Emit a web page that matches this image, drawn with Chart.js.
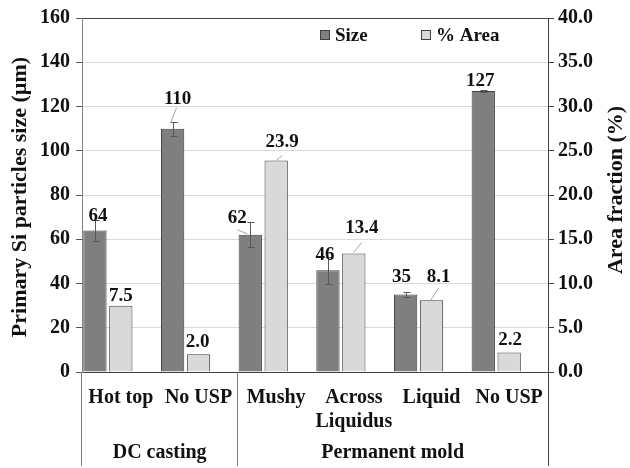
<!DOCTYPE html>
<html>
<head>
<meta charset="utf-8">
<script src="https://cdn.jsdelivr.net/npm/chart.js@4.4.1/dist/chart.umd.min.js"></script>
<style>
    html, body { margin: 0; padding: 0; background: #fff; }
    canvas { display: block; }
</style>
</head>
<body>
<canvas id="chart" width="630" height="468"></canvas>
<script>
// ==================== DADOS ====================
const categories = [['Hot top'], ['No USP'], ['Mushy'], ['Across', 'Liquidus'], ['Liquid'], ['No USP']];
const groups = ['DC casting', 'Permanent mold'];
const groupSizes = [2, 4];
const sizeValues = [64, 110, 62, 46, 35, 127];
const sizeErrors = [4.8, 3.2, 5.6, 6.0, 1.3, 0.5];
const areaValues = [7.5, 2.0, 23.9, 13.4, 8.1, 2.2];
const sizeAxis = { min: 0, max: 160, step: 20 };
const areaAxis = { min: 0, max: 40, step: 5 };

// ==================== ESTILO ====================
const SERIF = '"Liberation Serif", "Times New Roman", serif';
const DARK = '#7f7f7f';
const LIGHT = '#d9d9d9';
const EDGE = '#404040';

// label offsets from bar top-centre, optional leader [sx, sy, ex, ey]
const sizeLabelStyle = [
    { dx: 3, dy: -14 },
    { dx: 5, dy: -30, lead: [-1, 9, -2, -6] },
    { dx: -13, dy: -17, lead: [0, 12, -3, -1] },
    { dx: -3, dy: -15 },
    { dx: -4, dy: -17 },
    { dx: -3, dy: -10 }
];
const areaLabelStyle = [
    { dx: 0, dy: -10 },
    { dx: -1, dy: -12 },
    { dx: 6, dy: -18, lead: [0, 13, 0, 0] },
    { dx: 8, dy: -25, lead: [0, 14, 0, -1] },
    { dx: 7, dy: -23, lead: [0, 11, -1, 0] },
    { dx: 1, dy: -12 }
];

function line(ctx, x1, y1, x2, y2) {
    ctx.beginPath();
    ctx.moveTo(x1, y1);
    ctx.lineTo(x2, y2);
    ctx.stroke();
}

// ==================== PLUGIN: ERROS, RÓTULOS, LEGENDA ====================
const extras = {
    id: 'extras',
    afterDatasetsDraw(chart) {
        const ctx = chart.ctx;
        const ySize = chart.scales.y;
        const sizeBars = chart.getDatasetMeta(0).data;
        const areaBars = chart.getDatasetMeta(1).data;
        ctx.save();

        // barras de erro
        ctx.strokeStyle = '#595959';
        ctx.lineWidth = 1;
        sizeBars.forEach((bar, i) => {
            const x = Math.round(bar.x) + 0.5;
            const hi = Math.round(ySize.getPixelForValue(sizeValues[i] + sizeErrors[i])) + 0.5;
            const lo = Math.round(ySize.getPixelForValue(sizeValues[i] - sizeErrors[i])) + 0.5;
            line(ctx, x, hi, x, lo);
            line(ctx, x - 3, hi, x + 4, hi);
            line(ctx, x - 3, lo, x + 4, lo);
        });

        // rótulos de dados
        const drawLabels = (bars, values, styles, fmt) => {
            bars.forEach((bar, i) => {
                const st = styles[i];
                const lx = bar.x + st.dx;
                const ly = bar.y + st.dy;
                if (st.lead) {
                    ctx.strokeStyle = '#a6a6a6';
                    line(ctx, lx + st.lead[0], ly + st.lead[1], bar.x + st.lead[2], bar.y + st.lead[3]);
                }
                ctx.fillStyle = '#111';
                ctx.font = `bold 19px ${SERIF}`;
                ctx.textAlign = 'center';
                ctx.textBaseline = 'middle';
                ctx.fillText(fmt(values[i]), lx, ly);
            });
        };
        drawLabels(sizeBars, sizeValues, sizeLabelStyle, v => String(Math.round(v)));
        drawLabels(areaBars, areaValues, areaLabelStyle, v => v.toFixed(1));
        ctx.restore();
    },
    afterDraw(chart) {
        const ctx = chart.ctx;
        const { left, right, top, bottom } = chart.chartArea;
        const xs = chart.scales.x;
        const foot = 466;
        ctx.save();

        // linhas de separação dos grupos
        ctx.lineWidth = 1;
        ctx.strokeStyle = '#808080';
        line(ctx, Math.round(left) - 0.5, bottom, Math.round(left) - 0.5, foot);
        let start = 0;
        const bounds = [left];
        groupSizes.forEach((n, g) => {
            const end = start + n;
            const bx = end < categories.length
                ? (xs.getPixelForValue(end - 1) + xs.getPixelForValue(end)) / 2
                : right;
            bounds.push(bx);
            if (end < categories.length) line(ctx, Math.round(bx) + 0.5, bottom, Math.round(bx) + 0.5, foot);
            start = end;
        });
        ctx.strokeStyle = EDGE;
        line(ctx, Math.round(right) + 0.5, bottom, Math.round(right) + 0.5, foot);

        // rótulos dos grupos
        ctx.fillStyle = '#111';
        ctx.font = `bold 20px ${SERIF}`;
        ctx.textAlign = 'center';
        ctx.textBaseline = 'middle';
        groups.forEach((g, i) => ctx.fillText(g, (bounds[i] + bounds[i + 1]) / 2, 453));

        // títulos dos eixos
        ctx.font = `bold 22px ${SERIF}`;
        ctx.save();
        ctx.translate(20, 197);
        ctx.rotate(-Math.PI / 2);
        ctx.fillText('Primary Si particles size (µm)', 0, 0);
        ctx.restore();
        ctx.save();
        ctx.translate(616, 190);
        ctx.rotate(-Math.PI / 2);
        ctx.fillText('Area fraction (%)', 0, 0);
        ctx.restore();

        // legenda
        ctx.font = `bold 19px ${SERIF}`;
        ctx.textAlign = 'left';
        const items = [
            { text: 'Size', fill: DARK, x: 320 },
            { text: '% Area', fill: LIGHT, x: 421 }
        ];
        items.forEach(it => {
            ctx.fillStyle = it.fill;
            ctx.fillRect(it.x + 0.5, 30.5, 9, 9);
            ctx.strokeStyle = EDGE;
            ctx.strokeRect(it.x + 0.5, 30.5, 9, 9);
            ctx.fillStyle = '#111';
            ctx.fillText(it.text, it.x + 15, 36);
        });
        ctx.restore();
    }
};

// ==================== GRÁFICO ====================
const tickFont = { family: SERIF, size: 20, weight: 'bold' };

new Chart(document.getElementById('chart').getContext('2d'), {
    type: 'bar',
    data: {
        labels: categories,
        datasets: [
            {
                label: 'Size',
                data: sizeValues,
                yAxisID: 'y',
                backgroundColor: DARK,
                borderColor: EDGE,
                borderWidth: 1
            },
            {
                label: '% Area',
                data: areaValues,
                yAxisID: 'y1',
                backgroundColor: LIGHT,
                borderColor: EDGE,
                borderWidth: 1
            },
            {
                label: '',
                data: categories.map(() => null),
                yAxisID: 'y'
            }
        ]
    },
    options: {
        responsive: false,
        animation: false,
        categoryPercentage: 1,
        barPercentage: 0.9,
        layout: { padding: { top: 17, left: 0, right: 0, bottom: 0 } },
        plugins: {
            legend: { display: false },
            tooltip: { enabled: false }
        },
        scales: {
            x: {
                grid: { display: false, drawTicks: false },
                border: { color: EDGE },
                ticks: { font: tickFont, color: '#111', padding: 14, maxRotation: 0, autoSkip: false },
                afterFit: s => { s.height = 96; }
            },
            y: {
                position: 'left',
                min: sizeAxis.min,
                max: sizeAxis.max,
                grid: {
                    color: c => (c.tick && c.tick.value === sizeAxis.max ? EDGE : '#d9d9d9'),
                    tickLength: 6,
                    tickColor: '#595959'
                },
                border: { color: '#808080' },
                ticks: { stepSize: sizeAxis.step, font: tickFont, color: '#111', padding: 6 },
                afterFit: s => { s.width = 82; }
            },
            y1: {
                position: 'right',
                min: areaAxis.min,
                max: areaAxis.max,
                grid: { drawOnChartArea: false, tickLength: 6, tickColor: EDGE },
                border: { color: EDGE },
                ticks: {
                    stepSize: areaAxis.step,
                    font: tickFont,
                    color: '#111',
                    padding: 4,
                    callback: v => Number(v).toFixed(1)
                },
                afterFit: s => { s.width = 82; }
            }
        }
    },
    plugins: [extras]
});
</script>
</body>
</html>
